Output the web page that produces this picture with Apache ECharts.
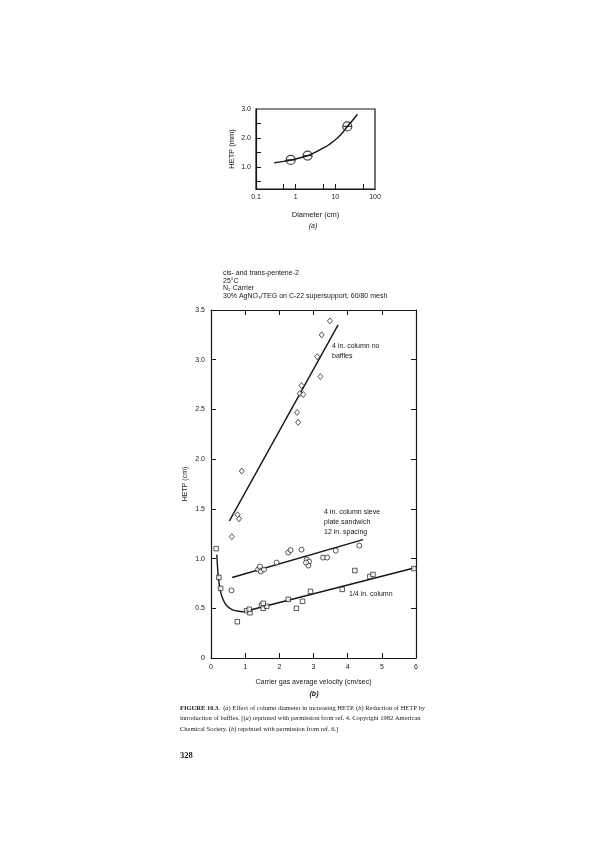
<!DOCTYPE html>
<html>
<head>
<meta charset="utf-8">
<script src="https://cdn.jsdelivr.net/npm/echarts@6/dist/echarts.min.js"></script>
<style>
  html, body { margin: 0; padding: 0; background: #fff; }
  #main { width: 595px; height: 842px; }
</style>
</head>
<body>
<div id="main"></div>
<script>
// (a) HETP vs column diameter
const diaPoints = [[0.75, 1.25], [2, 1.4], [20, 2.4]];
const diaCurve = [[0.29, 1.15], [0.5, 1.2], [1, 1.28], [2, 1.4], [3, 1.5], [5, 1.66], [7, 1.78],
  [10, 1.94], [14, 2.13], [20, 2.4], [28, 2.63], [36, 2.82]];
const diaTicks = [0.5, 1, 5, 10, 50];

// (b) HETP vs carrier gas velocity
const noBafflesPts = [[0.61, 1.22], [0.78, 1.44], [0.82, 1.40], [0.90, 1.88], [2.52, 2.47], [2.55, 2.37],
  [2.60, 2.66], [2.70, 2.65], [2.65, 2.74], [3.11, 3.03], [3.20, 2.83], [3.24, 3.25], [3.48, 3.39]];
const noBafflesLine = [[0.54, 1.38], [3.72, 3.35]];

const sievePts = [[0.60, 0.68], [1.38, 0.89], [1.46, 0.87], [1.55, 0.89], [1.43, 0.92], [1.92, 0.96],
  [2.26, 1.06], [2.33, 1.085], [2.65, 1.09], [2.80, 0.99], [2.87, 0.97], [2.85, 0.93], [2.78, 0.96],
  [3.28, 1.01], [3.40, 1.01], [3.65, 1.08], [4.34, 1.13]];
const sieveLine = [[0.62, 0.81], [4.45, 1.19]];

const quarterPts = [[0.15, 1.10], [0.23, 0.81], [0.28, 0.70], [0.77, 0.365], [1.04, 0.475], [1.14, 0.455],
  [1.12, 0.49], [1.48, 0.53], [1.53, 0.50], [1.63, 0.52], [1.53, 0.55], [2.26, 0.59], [2.50, 0.50],
  [2.68, 0.57], [2.91, 0.67], [3.84, 0.69], [4.21, 0.88], [4.65, 0.82], [4.74, 0.84], [5.94, 0.90]];
const quarterCurve = [[0.17, 1.04], [0.19, 0.92], [0.22, 0.80], [0.27, 0.68], [0.35, 0.59], [0.45, 0.53],
  [0.6, 0.49], [0.8, 0.47], [0.95, 0.465]];
const quarterLine = [[0.95, 0.465], [6, 0.91]];

const ink = '#161616';
const sans = 'Liberation Sans';
const serif = 'Liberation Serif';

const chart = echarts.init(document.getElementById('main'));

const lineStyle = { color: ink, width: 1.4 };
const openMark = (sym, size) => ({
  symbol: sym, symbolSize: size,
  itemStyle: { color: '#fff', borderColor: ink, borderWidth: 0.9 }
});

function boxAxis(gridIndex, position, type, extra) {
  return Object.assign({
    gridIndex, position, type,
    axisLine: { show: true, onZero: false, lineStyle: { color: ink, width: 1.2 } },
    axisTick: { show: true, inside: true, length: 5, lineStyle: { color: ink } },
    axisLabel: { show: false },
    splitLine: { show: false }
  }, extra);
}

chart.setOption({
  animation: false,
  backgroundColor: '#fff',
  textStyle: { fontFamily: sans, color: ink },
  grid: [
    { left: 256, top: 109, width: 119, height: 80, show: true, borderColor: ink, borderWidth: 1.2 },
    { left: 211, top: 310, width: 205, height: 348 }
  ],
  xAxis: [
    {
      gridIndex: 0, type: 'log', min: 0.1, max: 100, position: 'bottom',
      axisLine: { lineStyle: { color: ink, width: 1.2 } },
      axisTick: { inside: true, length: 5, customValues: diaTicks, lineStyle: { color: ink } },
      axisLabel: { fontSize: 7, color: ink, margin: 5 },
      splitLine: { show: false },
      name: 'Diameter (cm)', nameLocation: 'middle', nameGap: 22,
      nameTextStyle: { fontSize: 7.5, color: ink }
    },
    boxAxis(1, 'bottom', 'value', {
      min: 0, max: 6, interval: 1,
      axisLabel: { show: true, fontSize: 7, color: ink, margin: 6 },
      name: 'Carrier gas average velocity (cm/sec)', nameLocation: 'middle', nameGap: 21,
      nameTextStyle: { fontSize: 7, color: ink }
    }),
    boxAxis(1, 'top', 'value', { min: 0, max: 6, interval: 1 })
  ],
  yAxis: [
    {
      gridIndex: 0, type: 'value', min: 0.25, max: 3.0,
      axisLine: { show: true, lineStyle: { color: ink, width: 1.2 } },
      axisTick: { show: true, inside: true, length: 5, customValues: [0.5, 1, 1.5, 2, 2.5], lineStyle: { color: ink } },
      axisLabel: { fontSize: 7, color: ink, margin: 5, customValues: [1, 2, 3], formatter: v => v.toFixed(1) },
      splitLine: { show: false },
      name: 'HETP (mm)', nameLocation: 'middle', nameGap: 20, nameRotate: 90,
      nameTextStyle: { fontSize: 7.5, color: ink }
    },
    boxAxis(1, 'left', 'value', {
      min: 0, max: 3.5, interval: 0.5,
      axisLabel: { show: true, fontSize: 7, color: ink, margin: 6, formatter: v => v === 0 ? '0' : v.toFixed(1) },
      name: 'HETP (cm)', nameLocation: 'middle', nameGap: 22, nameRotate: 90,
      nameTextStyle: { fontSize: 7, color: ink }
    }),
    boxAxis(1, 'right', 'value', { min: 0, max: 3.5, interval: 0.5 })
  ],
  series: [
    {
      type: 'line', xAxisIndex: 0, yAxisIndex: 0, data: diaCurve, smooth: 0.5,
      symbol: 'none', lineStyle: lineStyle, z: 2
    },
    {
      type: 'scatter', xAxisIndex: 0, yAxisIndex: 0, data: diaPoints, z: 5,
      symbol: 'path://M0,5 A5,5 0 1,1 10,5 A5,5 0 1,1 0,5 Z M0,5 L10,5', symbolSize: 9,
      itemStyle: { color: 'rgba(255,255,255,0)', borderColor: ink, borderWidth: 1.2 }
    },
    {
      type: 'line', xAxisIndex: 1, yAxisIndex: 1, data: noBafflesLine,
      symbol: 'none', lineStyle: lineStyle, z: 2
    },
    {
      type: 'line', xAxisIndex: 1, yAxisIndex: 1, data: sieveLine,
      symbol: 'none', lineStyle: lineStyle, z: 2
    },
    {
      type: 'line', xAxisIndex: 1, yAxisIndex: 1, data: quarterCurve, smooth: 0.3,
      symbol: 'none', lineStyle: lineStyle, z: 2
    },
    {
      type: 'line', xAxisIndex: 1, yAxisIndex: 1, data: quarterLine,
      symbol: 'none', lineStyle: lineStyle, z: 2
    },
    Object.assign({ type: 'scatter', xAxisIndex: 1, yAxisIndex: 1, data: noBafflesPts, z: 5 }, openMark('diamond', [5, 6])),
    Object.assign({ type: 'scatter', xAxisIndex: 1, yAxisIndex: 1, data: sievePts, z: 5 }, openMark('circle', 5)),
    Object.assign({ type: 'scatter', xAxisIndex: 1, yAxisIndex: 1, data: quarterPts, z: 5 }, openMark('rect', 4.5))
  ],
  graphic: [
    { type: 'text', x: 313, y: 226, style: { text: '(a)', fontSize: 7, fontFamily: sans, fontStyle: 'italic', fill: ink, align: 'center', verticalAlign: 'middle' } },
    { type: 'text', x: 223, y: 273, style: { text: 'cis- and trans-pentene-2', fontSize: 7, fontFamily: sans, fill: ink, verticalAlign: 'middle' } },
    { type: 'text', x: 223, y: 281, style: { text: '25°C', fontSize: 7, fontFamily: sans, fill: ink, verticalAlign: 'middle' } },
    { type: 'text', x: 223, y: 288.5, style: { text: 'N₂ Carrier', fontSize: 7, fontFamily: sans, fill: ink, verticalAlign: 'middle' } },
    { type: 'text', x: 223, y: 296, style: { text: '30% AgNO₃/TEG on C-22 supersupport, 60/80 mesh', fontSize: 7, fontFamily: sans, fill: ink, verticalAlign: 'middle' } },
    { type: 'text', x: 332, y: 351, style: { text: '4 in. column no\nbaffles', fontSize: 7, lineHeight: 10, fontFamily: sans, fill: ink, verticalAlign: 'middle' } },
    { type: 'text', x: 324, y: 522, style: { text: '4 in. column sieve\nplate sandwich\n12 in. spacing', fontSize: 7, lineHeight: 10, fontFamily: sans, fill: ink, verticalAlign: 'middle' } },
    { type: 'text', x: 349, y: 594, style: { text: '1/4 in. column', fontSize: 7, fontFamily: sans, fill: ink, verticalAlign: 'middle' } },
    { type: 'text', x: 314, y: 694, style: { text: '(b)', fontSize: 7, fontFamily: sans, fontStyle: 'italic', fontWeight: 'bold', fill: ink, align: 'center', verticalAlign: 'middle' } },
    {
      type: 'text', x: 180, y: 703,
      style: {
        text: '{b|FIGURE 10.3.}  ({i|a}) Effect of column diameter in increasing HETP. ({i|b}) Reduction of HETP by\n' +
              'introduction of baffles. [({i|a}) reprinted with permission from ref. 4. Copyright 1982 American\n' +
              'Chemical Society. ({i|b}) reprinted with permission from ref. 6.]',
        fontSize: 6.5, lineHeight: 10.5, fontFamily: serif, fill: ink,
        rich: {
          b: { fontSize: 6.5, fontWeight: 'bold', fontFamily: serif, fill: ink },
          i: { fontSize: 6.5, fontStyle: 'italic', fontFamily: serif, fill: ink }
        }
      }
    },
    { type: 'text', x: 180, y: 751, style: { text: '328', fontSize: 8.5, fontWeight: 'bold', fontFamily: serif, fill: ink } }
  ]
});
</script>
</body>
</html>
